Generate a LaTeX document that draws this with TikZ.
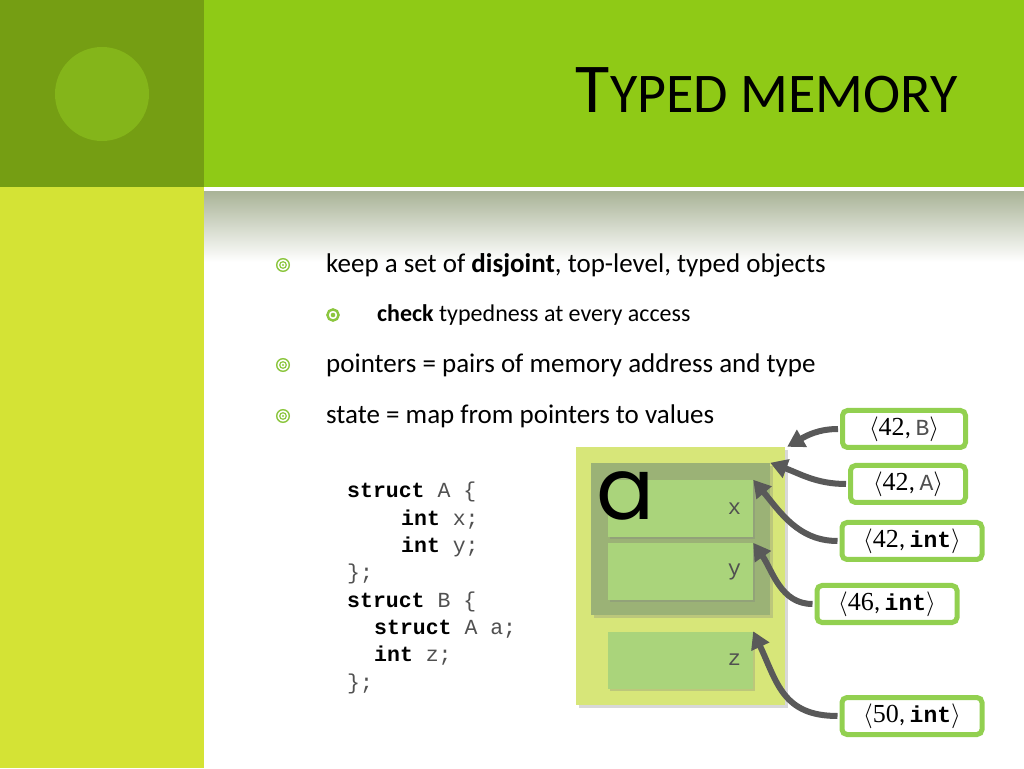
\documentclass[tikz,border=0pt]{standalone}
\usepackage{amsmath}
\usepackage{fontspec}
\setmainfont{Carlito}
\setmonofont{Liberation Mono}
\newfontfamily\geofont{Poppins}
\newfontfamily\numfont{Liberation Serif}
\usetikzlibrary{arrows.meta,positioning,shadows}

\definecolor{bandDark}{RGB}{117,158,19}
\definecolor{bandCircle}{RGB}{132,181,26}
\definecolor{bandTop}{RGB}{143,202,22}
\definecolor{bandSide}{RGB}{212,227,53}
\definecolor{fadeGray}{RGB}{170,180,152}
\definecolor{boxB}{RGB}{215,230,121}
\definecolor{boxA}{RGB}{155,178,118}
\definecolor{fieldGreen}{RGB}{170,212,123}
\definecolor{ptrGreen}{RGB}{146,208,80}
\definecolor{bulletGreen}{RGB}{140,198,63}
\definecolor{arrowGray}{RGB}{89,89,89}
\definecolor{codeGray}{RGB}{80,80,80}

\newcommand{\kw}[1]{\textbf{\color{black}#1}}
\newcommand{\ptrtext}[2]{$\langle${\numfont #1},\,#2$\rangle$}

\begin{document}
\begin{tikzpicture}[x=1pt, y=1pt,
  >={Triangle[length=17pt, width=19pt]},
  txt/.style   = {anchor=base west, inner sep=0pt},
  code/.style  = {txt, font=\ttfamily\fontsize{21.5}{26}\selectfont, text=codeGray},
  ptr/.style   = {
    draw=ptrGreen, line width=5pt, rounded corners=5pt,
    fill=white, minimum height=37pt, inner sep=0pt,
    font=\fontsize{26}{30}\selectfont
  },
  field/.style = {
    fill=fieldGreen, minimum width=145pt, minimum height=57pt, inner sep=0pt,
    drop shadow={shadow xshift=2pt, shadow yshift=-2pt, opacity=0.3}
  },
  fname/.style = {inner sep=0pt, font=\ttfamily\fontsize{22}{26}\selectfont, text=codeGray},
  link/.style  = {->, draw=arrowGray, line width=6pt, shorten <=2pt},
  ring/.style  = {draw=bulletGreen}
]
\useasboundingbox (0,0) rectangle (1024,768);

% ---- slide background ----
\fill[white] (0,0) rectangle (1024,768);
\fill[bandDark] (0,581) rectangle (204,768);
\fill[bandCircle] (102,674) circle[radius=47];
\fill[bandTop] (204,581) rectangle (1024,768);
\fill[bandSide] (0,0) rectangle (204,581);
\shade[top color=fadeGray, bottom color=white] (204,506) rectangle (1024,576);

% ---- title ----
\node[anchor=base east, inner sep=0pt] (title) at (958,655)
  {\fontsize{70}{70}\selectfont T\fontsize{56}{56}\selectfont YPED MEMORY};

% ---- bullets ----
\foreach \by in {503,403,352} {
  \draw[ring, line width=1.4pt] (283,\by) circle[radius=6.3];
  \draw[ring, line width=1.2pt] (283,\by) circle[radius=3.3];
  \fill[bulletGreen] (283,\by) circle[radius=1.2];
}
\draw[ring, line width=2.4pt] (333,453) circle[radius=5.6];
\fill[bulletGreen] (333,453) circle[radius=2.3];

\node[txt, font=\fontsize{27}{30}\selectfont] (b1) at (326,495)
  {keep a set of \textbf{disjoint}, top-level, typed objects};
\node[txt, font=\fontsize{24}{28}\selectfont] (b11) at (377,446)
  {\textbf{check} typedness at every access};
\node[txt, font=\fontsize{27}{30}\selectfont] (b2) at (326,395)
  {pointers = pairs of memory address and type};
\node[txt, font=\fontsize{27}{30}\selectfont] (b3) at (326,344)
  {state = map from pointers to values};

% ---- struct declarations ----
\foreach \cx/\cy/\ctext in {
  347/270.0/{\kw{struct} A \{},
  401/242.7/{\kw{int} x;},
  401/215.4/{\kw{int} y;},
  347/188.1/{\};},
  347/160.8/{\kw{struct} B \{},
  374/133.5/{\kw{struct} A a;},
  374/106.2/{\kw{int} z;},
  347/78.9/{\};}
} {
  \node[code] at (\cx,\cy) {\ctext};
}

% ---- memory layout ----
\node[fill=boxB, minimum width=209pt, minimum height=258pt, inner sep=0pt,
  drop shadow={shadow xshift=3pt, shadow yshift=-3pt, opacity=0.3}] (objB) at (680.5,192) {};
\node[fill=boxA, minimum width=179pt, minimum height=152pt, inner sep=0pt,
  drop shadow={shadow xshift=3pt, shadow yshift=-3pt, opacity=0.3}] (objA) at (680.5,229) {};
\node[field] (fx) at (680.5,259.5) {};
\node[field] (fy) at (680.5,196.5) {};
\node[field] (fz) at (680.5,108) {};
\node[anchor=base west, inner sep=0pt, font=\geofont\fontsize{86}{86}\selectfont] (aname) at (596,248) {a};
\node[fname, left=12pt of fx.east] (lx) {x};
\node[fname, left=12pt of fy.east] (ly) {y};
\node[fname, left=12pt of fz.east] (lz) {z};

% ---- pointers ----
\node[ptr, minimum width=123pt] (pB) at (904,339) {\ptrtext{42}{{\color{codeGray}\ttfamily\fontsize{23}{26}\selectfont B}}};
\node[ptr, minimum width=115pt] (pA) at (908,284) {\ptrtext{42}{{\color{codeGray}\ttfamily\fontsize{23}{26}\selectfont A}}};
\node[ptr, minimum width=140pt] (px) at (912,227) {\ptrtext{42}{{\ttfamily\bfseries\fontsize{23}{26}\selectfont int}}};
\node[ptr, minimum width=140pt] (py) at (887,164) {\ptrtext{46}{{\ttfamily\bfseries\fontsize{23}{26}\selectfont int}}};
\node[ptr, minimum width=140pt] (pz) at (912,52) {\ptrtext{50}{{\ttfamily\bfseries\fontsize{23}{26}\selectfont int}}};

% ---- arrows ----
\draw[link] (pB.west) to[out=180, in=30] ([shift={(2,0)}]objB.north east);
\draw[link] (pA.west) to[out=180, in=-20] (objA.north east);
\draw[link] (px.west) to[out=180, in=-50] (fx.north east);
\draw[link] (py.west) to[out=180, in=-55] (fy.north east);
\draw[link] (pz.west) to[out=180, in=-65, looseness=1.2] (fz.north east);

\end{tikzpicture}
\end{document}
